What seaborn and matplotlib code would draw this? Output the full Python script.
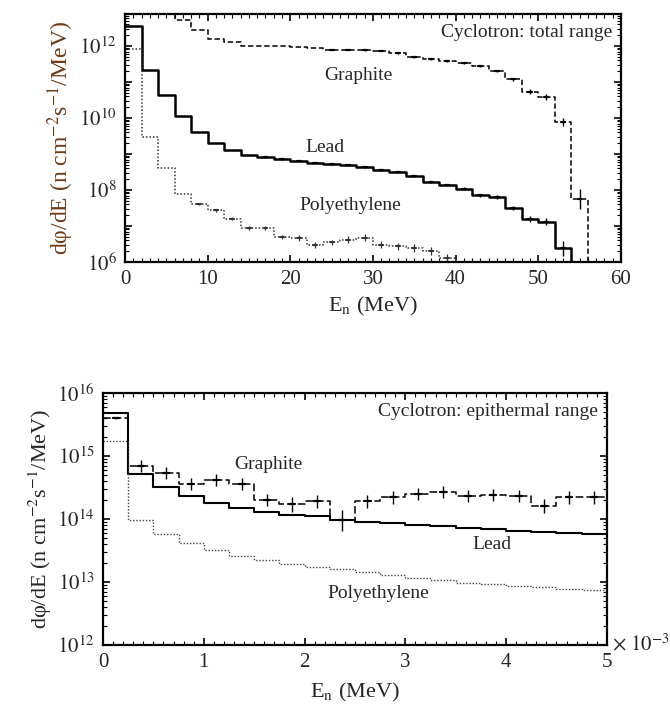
import numpy as np
import pandas as pd
import seaborn as sns
import matplotlib.pyplot as plt
from matplotlib.ticker import LogLocator, MultipleLocator, NullFormatter, FuncFormatter

# ---- data: top panel (total range), 2 MeV bins, flux in n cm^-2 s^-1 / MeV
total_edges = [0, 2, 4, 6, 8, 10, 12, 14, 16, 18, 20, 22, 24, 26, 28, 30,
               32, 34, 36, 38, 40, 42, 44, 46, 48, 50, 52, 54, 56]
total_graphite = [2.0e13, 1.6e13, 1.0e13, 5.2e12, 2.7e12, 1.55e12, 1.3e12, 1.0e12,
                  1.0e12, 9.8e11, 9.1e11, 8.9e11, 7.9e11, 7.8e11, 7.6e11, 7.4e11,
                  6.3e11, 5.0e11, 4.4e11, 3.9e11, 3.3e11, 2.8e11, 2.0e11, 1.2e11,
                  5.4e10, 3.9e10, 7.9e9, 5.6e7]
total_lead = [3.5e12, 2.1e11, 4.4e10, 1.15e10, 4.0e9, 2.0e9, 1.3e9, 9.1e8,
              8.3e8, 7.1e8, 6.5e8, 5.8e8, 5.2e8, 4.8e8, 4.4e8, 3.5e8,
              3.1e8, 2.5e8, 1.7e8, 1.4e8, 1.07e8, 7.2e7, 6.3e7, 3.1e7,
              1.6e7, 1.3e7, 2.4e6]
total_poly = [8.3e11, 3.0e9, 4.0e8, 7.8e7, 4.1e7, 2.7e7, 1.6e7, 8.7e6,
              8.7e6, 4.9e6, 4.6e6, 3.0e6, 3.5e6, 4.1e6, 4.7e6, 3.0e6,
              2.7e6, 2.4e6, 2.0e6, 1.26e6]
# relative error bars (0 = none drawn)
total_graphite_err = [0, 0, 0, 0, 0, 0, 0, 0, 0, 0, 0, 0, 0.04, 0.04, 0.04, 0.05,
                      0.05, 0.05, 0.06, 0.06, 0.07, 0.08, 0.08, 0.1, 0.15, 0.2, 0.3, 0.9]
total_lead_err = [0, 0, 0, 0, 0, 0, 0, 0, 0.04, 0.04, 0.04, 0.05, 0.05, 0.05, 0.05,
                  0.06, 0.06, 0.06, 0.07, 0.08, 0.1, 0.1, 0.12, 0.15, 0.2, 0.25, 0.6]
total_poly_err = [0, 0, 0, 0, 0.08, 0.1, 0.1, 0.12, 0.15, 0.15, 0.2, 0.2, 0.2,
                  0.25, 0.25, 0.25, 0.25, 0.3, 0.3, 0.3]

# ---- data: bottom panel (epithermal range), x in units of 1e-3 MeV
epi_edges = [0, 0.25, 0.5, 0.75, 1.0, 1.25, 1.5, 1.75, 2.0, 2.25, 2.5,
             2.75, 3.0, 3.25, 3.5, 3.75, 4.0, 4.25, 4.5, 4.75, 5.0]
epi_lead = [4.8e15, 5.1e14, 3.2e14, 2.3e14, 1.8e14, 1.5e14, 1.3e14, 1.17e14, 1.1e14, 9.5e13,
            9.1e13, 8.5e13, 7.9e13, 7.6e13, 7.1e13, 6.9e13, 6.5e13, 6.3e13, 5.9e13, 5.8e13]
epi_graphite = [4.0e15, 6.9e14, 5.4e14, 3.6e14, 4.2e14, 3.6e14, 2.0e14, 1.7e14, 1.9e14, 9.5e13,
                1.9e14, 2.2e14, 2.5e14, 2.7e14, 2.3e14, 2.4e14, 2.3e14, 1.6e14, 2.2e14, 2.2e14]
epi_poly = [1.7e15, 9.5e13, 5.8e13, 4.2e13, 3.2e13, 2.6e13, 2.2e13, 1.9e13, 1.7e13, 1.6e13,
            1.45e13, 1.3e13, 1.15e13, 1.07e13, 9.8e12, 9.3e12, 8.7e12, 8.3e12, 7.8e12, 7.4e12]
epi_graphite_err = [0.04, 0.25, 0.25, 0.25, 0.25, 0.25, 0.25, 0.3, 0.25, 0.45,
                    0.25, 0.25, 0.25, 0.25, 0.25, 0.25, 0.25, 0.3, 0.25, 0.25]

BELOW = 1e3  # value used to let a histogram drop off the bottom of the axes

sns.set_style('ticks')
plt.rcParams['font.family'] = ['Liberation Serif', 'DejaVu Serif']
plt.rcParams['mathtext.fontset'] = 'stix'
plt.rcParams['xtick.direction'] = 'in'
plt.rcParams['ytick.direction'] = 'in'


def steps(ax, edges, vals, end_val, **kw):
    n = len(vals)
    df = pd.DataFrame({'E': edges[:n + 1], 'flux': list(vals) + [end_val]})
    sns.lineplot(data=df, x='E', y='flux', drawstyle='steps-post', estimator=None,
                 sort=False, ax=ax, **kw)


def errs(ax, edges, vals, rel, color, lw):
    for i, (v, r) in enumerate(zip(vals, rel)):
        if r <= 0:
            continue
        xc = 0.5 * (edges[i] + edges[i + 1])
        ax.errorbar([xc], [v], yerr=[[v * r / (1 + r)], [v * r]], fmt='none',
                    ecolor=color, elinewidth=lw, capsize=0)
        ax.plot([xc - 0.12 * (edges[1] - edges[0]), xc + 0.12 * (edges[1] - edges[0])],
                [v, v], color=color, lw=lw + 0.6)


def log_label(v, pos, only_even=False):
    e = int(round(np.log10(v)))
    if only_even and e % 2:
        return ''
    return r'$10^{%d}$' % e


def style_axes(ax):
    for s in ax.spines.values():
        s.set_linewidth(1.6)
        s.set_color('black')
    ax.tick_params(which='both', top=True, right=True, color='black')
    ax.tick_params(which='major', length=5, width=1.2, labelsize=15, pad=6)
    ax.tick_params(which='minor', length=3, width=0.8)


fig = plt.figure(figsize=(6.7, 7.12), dpi=100)

# ---------------- top panel
ax1 = fig.add_axes([0.1866, 0.632, 0.740, 0.3483])
steps(ax1, total_edges, total_graphite, BELOW, color='black', lw=1.1, linestyle=(0, (3.5, 1.8)))
steps(ax1, total_edges, total_lead, BELOW, color='black', lw=1.8)
steps(ax1, total_edges, total_poly, BELOW, color='#333333', lw=1.1, linestyle=(0, (1, 1.3)))
errs(ax1, total_edges, total_graphite, total_graphite_err, 'black', 1.0)
errs(ax1, total_edges, total_lead, total_lead_err, 'black', 1.0)
errs(ax1, total_edges, total_poly, total_poly_err, '#333333', 0.9)
ax1.set_yscale('log')
ax1.set_xlim(0, 60)
ax1.set_ylim(1e6, 7.7e12)
ax1.xaxis.set_major_locator(MultipleLocator(10))
ax1.xaxis.set_minor_locator(MultipleLocator(1))
ax1.yaxis.set_major_locator(LogLocator(base=10, numticks=20))
ax1.yaxis.set_minor_locator(LogLocator(base=10, subs=np.arange(2, 10), numticks=20))
ax1.yaxis.set_major_formatter(FuncFormatter(lambda v, p: log_label(v, p, True)))
ax1.yaxis.set_minor_formatter(NullFormatter())
style_axes(ax1)
ax1.set_xlabel(r'E$_\mathrm{n}$ (MeV)', fontsize=16, labelpad=4)
ax1.set_ylabel('dφ/dE (n cm$^{-2}$s$^{-1}$/MeV)', fontsize=17, color='#6e3b16', labelpad=2)
ax1.text(0.982, 0.927, 'Cyclotron: total range', transform=ax1.transAxes,
         ha='right', va='center', fontsize=14)
ax1.text(28.3, 1.55e11, 'Graphite', ha='center', va='center', fontsize=14)
ax1.text(24.2, 1.5e9, 'Lead', ha='center', va='center', fontsize=14)
ax1.text(27.3, 3.6e7, 'Polyethylene', ha='center', va='center', fontsize=14)

# ---------------- bottom panel
ax2 = fig.add_axes([0.1537, 0.0941, 0.752, 0.354])
steps(ax2, epi_edges, epi_graphite, epi_graphite[-1], color='black', lw=1.1, linestyle=(0, (5, 2)))
steps(ax2, epi_edges, epi_lead, epi_lead[-1], color='black', lw=1.5)
steps(ax2, epi_edges, epi_poly, epi_poly[-1], color='#444444', lw=1.0, linestyle=(0, (1, 1.3)))
errs(ax2, epi_edges, epi_graphite, epi_graphite_err, 'black', 1.0)
ax2.set_yscale('log')
ax2.set_xlim(0, 5)
ax2.set_ylim(1e12, 1e16)
ax2.xaxis.set_major_locator(MultipleLocator(1))
ax2.xaxis.set_minor_locator(MultipleLocator(0.1))
ax2.yaxis.set_major_locator(LogLocator(base=10, numticks=20))
ax2.yaxis.set_minor_locator(LogLocator(base=10, subs=np.arange(2, 10), numticks=20))
ax2.yaxis.set_major_formatter(FuncFormatter(log_label))
ax2.yaxis.set_minor_formatter(NullFormatter())
style_axes(ax2)
ax2.set_xlabel(r'E$_\mathrm{n}$ (MeV)', fontsize=16, labelpad=6)
ax2.set_ylabel('dφ/dE (n cm$^{-2}$s$^{-1}$/MeV)', fontsize=16, labelpad=2)
ax2.text(1.01, 0.0, r'$\times\ 10^{-3}$', transform=ax2.transAxes,
         ha='left', va='center', fontsize=15)
ax2.text(0.982, 0.926, 'Cyclotron: epithermal range', transform=ax2.transAxes,
         ha='right', va='center', fontsize=14)
ax2.text(1.64, 7.4e14, 'Graphite', ha='center', va='center', fontsize=14)
ax2.text(3.86, 3.9e13, 'Lead', ha='center', va='center', fontsize=14)
ax2.text(2.73, 6.5e12, 'Polyethylene', ha='center', va='center', fontsize=14)

fig.savefig('out.png', dpi=100)
